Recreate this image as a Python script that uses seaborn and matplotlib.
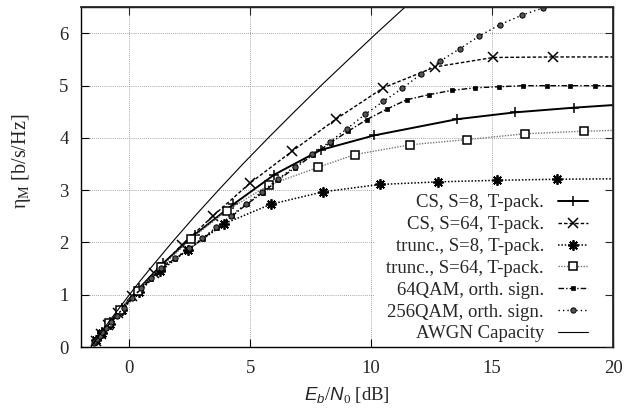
import matplotlib
matplotlib.use('Agg')
import matplotlib.pyplot as plt
import seaborn as sns
from matplotlib.patches import Rectangle

# Eb/N0 [dB] y eta_M [b/s/Hz]
awgn_x = [-1.59, -1.21, -0.82, -0.41, 0.00, 0.42, 0.86, 1.31, 1.76, 2.70, 3.68,
          4.69, 5.74, 6.82, 7.92, 9.06, 10.21, 11.39, 12.59]
awgn_y = [0.0, 0.25, 0.5, 0.75, 1.0, 1.25, 1.5, 1.75, 2.0, 2.5, 3.0,
          3.5, 4.0, 4.5, 5.0, 5.5, 6.0, 6.5, 7.0]

cs8_x = [-1.35, -1.12, -0.79, -0.31, 0.40, 1.39, 2.70, 4.30, 6.00, 7.91, 10.13,
         13.56, 15.95, 18.39, 21.0]
cs8_y = [0.14, 0.28, 0.47, 0.74, 1.12, 1.60, 2.15, 2.73, 3.30, 3.77, 4.05,
         4.36, 4.49, 4.58, 4.66]

cs64_x = [-1.38, -1.16, -0.87, -0.46, 0.12, 1.02, 2.17, 3.44, 4.97, 6.74, 8.54,
          10.50, 12.65, 15.05, 17.52, 22.5]
cs64_y = [0.12, 0.25, 0.42, 0.66, 0.98, 1.42, 1.95, 2.50, 3.13, 3.75, 4.36,
          4.96, 5.36, 5.54, 5.55, 5.55]

tr8_x = [-1.36, -1.14, -0.82, -0.32, 0.39, 1.27, 2.42, 3.93, 5.84, 8.02, 10.35,
         12.78, 15.22, 17.70, 20.3]
tr8_y = [0.13, 0.26, 0.44, 0.70, 1.05, 1.45, 1.86, 2.36, 2.73, 2.97, 3.11,
         3.16, 3.19, 3.21, 3.22]

tr64_x = [-0.86, -0.39, 0.34, 1.31, 2.53, 4.02, 5.78, 7.81, 9.31, 11.61, 13.98,
          16.36, 18.82, 21.3]
tr64_y = [0.45, 0.71, 1.08, 1.53, 2.06, 2.61, 3.10, 3.44, 3.68, 3.87, 3.97,
          4.08, 4.13, 4.16]

q64_x = [-1.48, -1.41, -1.33, -1.23, -1.12, -0.97, -0.78, -0.53, -0.24, 0.10,
         0.50, 0.90, 1.32, 1.88, 2.50, 3.03, 3.61, 4.23, 4.85, 5.51, 6.16, 6.85,
         7.58, 8.32, 9.05, 9.81, 10.64, 11.46, 12.40, 13.33, 14.29, 15.27, 16.27,
         17.26, 18.24, 19.24, 20.24]
q64_y = [0.07, 0.11, 0.15, 0.21, 0.28, 0.36, 0.47, 0.60, 0.75, 0.93,
         1.12, 1.31, 1.50, 1.69, 1.88, 2.07, 2.28, 2.50, 2.73, 2.95, 3.20, 3.43,
         3.67, 3.91, 4.13, 4.35, 4.55, 4.73, 4.83, 4.91, 4.96, 4.98, 5.00,
         5.00, 5.00, 5.00, 5.00]

q256_x = [-1.48, -1.41, -1.33, -1.23, -1.12, -0.97, -0.78, -0.53, -0.24, 0.10,
          0.50, 0.90, 1.32, 1.88, 2.48, 3.01, 3.59, 4.20, 4.82, 5.48, 6.14, 6.83,
          7.55, 8.30, 9.01, 9.74, 10.50, 11.29, 12.05, 12.85, 13.67, 14.47, 15.33,
          16.23, 17.12, 18.0]
q256_y = [0.07, 0.11, 0.15, 0.21, 0.28, 0.36, 0.47, 0.60, 0.75, 0.94,
          1.13, 1.32, 1.51, 1.70, 1.89, 2.08, 2.29, 2.51, 2.74, 2.97, 3.21, 3.45,
          3.69, 3.93, 4.18, 4.45, 4.70, 4.95, 5.22, 5.47, 5.71, 5.95, 6.17,
          6.35, 6.49, 6.62]

x_ticks = [0, 5, 10, 15, 20]
y_ticks = [0, 1, 2, 3, 4, 5, 6]

sns.set_theme(style='ticks')
plt.rcParams['font.family'] = ['Liberation Serif', 'DejaVu Serif']
plt.rcParams['mathtext.fontset'] = 'custom'
plt.rcParams['mathtext.rm'] = 'Liberation Serif'
plt.rcParams['mathtext.it'] = 'Liberation Sans:italic'
plt.rcParams['mathtext.sf'] = 'Liberation Sans'
plt.rcParams['mathtext.default'] = 'it'

fs = 13.5
fig = plt.figure(figsize=(6.29, 4.13), dpi=100)
ax = fig.add_axes([0.1288, 0.1598, 0.8458, 0.8225])

series = [
    ('CS, S=8, T-pack.', cs8_x, cs8_y,
     dict(color='black', linewidth=1.4, linestyle='-', marker='+', markersize=7.5,
          markeredgecolor='black', markeredgewidth=1.1)),
    ('CS, S=64, T-pack.', cs64_x, cs64_y,
     dict(color='black', linewidth=1.0, linestyle=(0, (2.5, 1.5)), marker='x',
          markersize=6.5, markeredgecolor='black', markeredgewidth=1.1)),
    ('trunc., S=8, T-pack.', tr8_x, tr8_y,
     dict(color='black', linewidth=1.1, linestyle=(0, (1, 1.2)), marker=(8, 2, 0),
          markersize=7.5, markeredgecolor='black', markeredgewidth=1.3)),
    ('trunc., S=64, T-pack.', tr64_x, tr64_y,
     dict(color='#777777', linewidth=1.0, linestyle=(0, (1, 1)), marker='s',
          markersize=6, markerfacecolor='white', markeredgecolor='black',
          markeredgewidth=1.1)),
    ('64QAM, orth. sign.', q64_x, q64_y,
     dict(color='black', linewidth=1.0, linestyle=(0, (4, 1.5, 1, 1.5)), marker='s',
          markersize=3, markerfacecolor='black', markeredgecolor='black',
          markeredgewidth=0.5)),
    ('256QAM, orth. sign.', q256_x, q256_y,
     dict(color='black', linewidth=1.0, linestyle=(0, (1, 2.2)), marker='o',
          markersize=3.8, markerfacecolor='#555555', markeredgecolor='black',
          markeredgewidth=0.7)),
    ('AWGN Capacity', awgn_x, awgn_y,
     dict(color='black', linewidth=0.8, linestyle='-')),
]

for label, xs, ys, st in series:
    sns.lineplot(x=xs, y=ys, ax=ax, label=label, sort=False, estimator=None, **st)

ax.set_xlim(-2, 20)
ax.set_ylim(0, 6.5)
ax.set_xticks(x_ticks)
ax.set_yticks(y_ticks)
ax.set_axisbelow(True)
ax.grid(True, color='#888888', linestyle=(0, (1, 1.5)), linewidth=0.6)
ax.tick_params(direction='in', length=6, width=0.8, labelsize=fs, pad=9,
               top=False, right=False, color='black')
for sp in ax.spines.values():
    sp.set_color('black')
    sp.set_linewidth(1.0)

ax.set_xlabel(r'$E_b/N_{\mathrm{0}}$ [dB]', fontsize=fs, labelpad=6)
ax.set_ylabel(r'$\mathrm{\eta_M}$ [b/s/Hz]', fontsize=fs + 1)
ax.yaxis.set_label_coords(-0.09, 0.545)

leg = ax.legend(loc='lower right', bbox_to_anchor=(0.962, 0.0), markerfirst=False,
                frameon=False, fontsize=fs, borderpad=0.25, borderaxespad=0.0,
                labelspacing=0.25, handlelength=1.6, handletextpad=0.75,
                numpoints=1)

# la caja de la leyenda tapa la reticula
fig.canvas.draw()
bb = leg.get_window_extent().transformed(ax.transAxes.inverted())
ax.add_patch(Rectangle((bb.x0 - 0.012, 0), 1 - bb.x0 + 0.012, bb.y1,
                       transform=ax.transAxes, facecolor='white',
                       edgecolor='none', zorder=1))

top = ax.secondary_xaxis('top')
top.set_xticks(x_ticks)
top.tick_params(direction='in', length=6, width=0.8, labeltop=False)
top.set_zorder(3)
right = ax.secondary_yaxis('right')
right.set_yticks(y_ticks)
right.tick_params(direction='in', length=6, width=0.8, labelright=False)
right.set_zorder(3)

fig.savefig('out.png', dpi=100)
